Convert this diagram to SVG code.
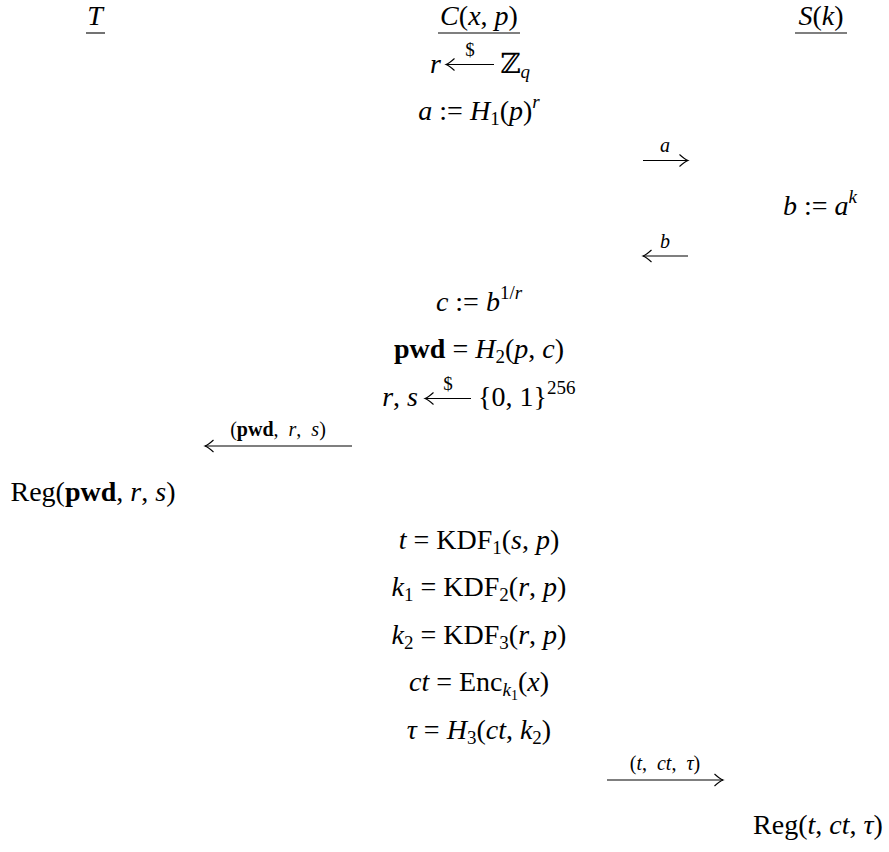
<svg xmlns="http://www.w3.org/2000/svg" width="889" height="852" viewBox="0 0 889 852">
<defs>
<marker id="ah" markerUnits="userSpaceOnUse" markerWidth="14" markerHeight="14" refX="0" refY="0" viewBox="-10 -7 12 14" orient="auto">
<path d="M-8.5,-6 Q-3,-1 0,0 Q-3,1 -8.5,6" fill="none" stroke="#000" stroke-width="1.1"/>
</marker>
</defs>
<style>
text{font-family:"Liberation Serif","DejaVu Serif",serif;font-size:28px;fill:#000}
.i{font-style:italic}
.b{font-weight:bold}
.s{font-size:19px}
.l{font-size:20px}
.ss{font-size:14px}
.arr{stroke:#000;stroke-width:1.1;fill:none;marker-end:url(#ah)}
.ul{stroke:#000;stroke-width:1.1}
</style>
<rect width="889" height="852" fill="#fff"/>

<g id="T-header">
<text x="95" y="25" text-anchor="middle" class="i">T</text>
<line class="ul" x1="86" y1="33" x2="105" y2="33"/>
</g>
<g id="C-header">
<text x="479" y="25" text-anchor="middle"><tspan class="i">C</tspan>(<tspan class="i">x</tspan>, <tspan class="i">p</tspan>)</text>
<line class="ul" x1="438" y1="33" x2="520" y2="33"/>
</g>
<g id="S-header">
<text x="821" y="25" text-anchor="middle"><tspan class="i">S</tspan>(<tspan class="i">k</tspan>)</text>
<line class="ul" x1="795" y1="33" x2="847" y2="33"/>
</g>

<g id="C-sample-r">
<text x="441" y="72.6" text-anchor="end" class="i">r</text>
<text x="470" y="56" text-anchor="middle" class="s">$</text>
<text x="500" y="72.6">ℤ<tspan class="s i" baseline-shift="-5">q</tspan></text>
</g>
<g id="C-a">
<text x="479" y="120.2" text-anchor="middle"><tspan class="i">a</tspan> := <tspan class="i">H</tspan><tspan class="s" baseline-shift="-5">1</tspan>(<tspan class="i">p</tspan>)<tspan class="s i" baseline-shift="12">r</tspan></text>
</g>
<g id="S-b">
<text x="820" y="215.4" text-anchor="middle"><tspan class="i">b</tspan> := <tspan class="i">a</tspan><tspan class="s i" baseline-shift="12">k</tspan></text>
</g>
<g id="C-c">
<text x="479" y="310.6" text-anchor="middle"><tspan class="i">c</tspan> := <tspan class="i">b</tspan><tspan class="s" baseline-shift="12">1/</tspan><tspan class="s i" baseline-shift="12">r</tspan></text>
</g>
<g id="C-pwd">
<text x="479" y="358.2" text-anchor="middle"><tspan class="b">pwd</tspan> = <tspan class="i">H</tspan><tspan class="s" baseline-shift="-5">2</tspan>(<tspan class="i">p</tspan>, <tspan class="i">c</tspan>)</text>
</g>
<g id="C-sample-rs">
<text x="418" y="405.8" text-anchor="end"><tspan class="i">r</tspan>, <tspan class="i">s</tspan></text>
<text x="448" y="390" text-anchor="middle" class="s">$</text>
<text x="478" y="405.8">{0, 1}<tspan class="s" baseline-shift="12">256</tspan></text>
</g>
<g id="T-reg">
<text x="93" y="501" text-anchor="middle">Reg(<tspan class="b">pwd</tspan>, <tspan class="i">r</tspan>, <tspan class="i">s</tspan>)</text>
</g>
<g id="C-t">
<text x="479" y="548.6" text-anchor="middle"><tspan class="i">t</tspan> = KDF<tspan class="s" baseline-shift="-5">1</tspan>(<tspan class="i">s</tspan>, <tspan class="i">p</tspan>)</text>
</g>
<g id="C-k1">
<text x="479" y="596.2" text-anchor="middle"><tspan class="i">k</tspan><tspan class="s" baseline-shift="-5">1</tspan> = KDF<tspan class="s" baseline-shift="-5">2</tspan>(<tspan class="i">r</tspan>, <tspan class="i">p</tspan>)</text>
</g>
<g id="C-k2">
<text x="479" y="643.8" text-anchor="middle"><tspan class="i">k</tspan><tspan class="s" baseline-shift="-5">2</tspan> = KDF<tspan class="s" baseline-shift="-5">3</tspan>(<tspan class="i">r</tspan>, <tspan class="i">p</tspan>)</text>
</g>
<g id="C-ct">
<text x="479" y="691.4" text-anchor="middle"><tspan class="i">ct</tspan> = Enc<tspan class="s i" baseline-shift="-5">k</tspan><tspan class="ss" baseline-shift="-9">1</tspan>(<tspan class="i">x</tspan>)</text>
</g>
<g id="C-tau">
<text x="479" y="739" text-anchor="middle"><tspan class="i">τ</tspan> = <tspan class="i">H</tspan><tspan class="s" baseline-shift="-5">3</tspan>(<tspan class="i">ct</tspan>, <tspan class="i">k</tspan><tspan class="s" baseline-shift="-5">2</tspan>)</text>
</g>
<g id="S-reg">
<text x="818" y="834.2" text-anchor="middle">Reg(<tspan class="i">t</tspan>, <tspan class="i">ct</tspan>, <tspan class="i">τ</tspan>)</text>
</g>

<g id="connectors">
<line class="arr" x1="494" y1="64.5" x2="446" y2="64.5"/>
<line class="arr" x1="471" y1="398.5" x2="425" y2="398.5"/>
<line class="arr" x1="643" y1="160.5" x2="688" y2="160.5"/>
<text x="665" y="152" text-anchor="middle" class="l i">a</text>
<line class="arr" x1="688" y1="256" x2="643" y2="256"/>
<text x="665" y="247.5" text-anchor="middle" class="l i">b</text>
<line class="arr" x1="352" y1="446" x2="205" y2="446"/>
<text x="278" y="436" text-anchor="middle" class="l">(<tspan class="b">pwd</tspan>,&#160;&#160;<tspan class="i">r</tspan>,&#160;&#160;<tspan class="i">s</tspan>)</text>
<line class="arr" x1="607" y1="780" x2="723" y2="780"/>
<text x="665" y="770" text-anchor="middle" class="l">(<tspan class="i">t</tspan>,&#160;&#160;<tspan class="i">ct</tspan>,&#160;&#160;<tspan class="i">τ</tspan>)</text>
</g>
</svg>
